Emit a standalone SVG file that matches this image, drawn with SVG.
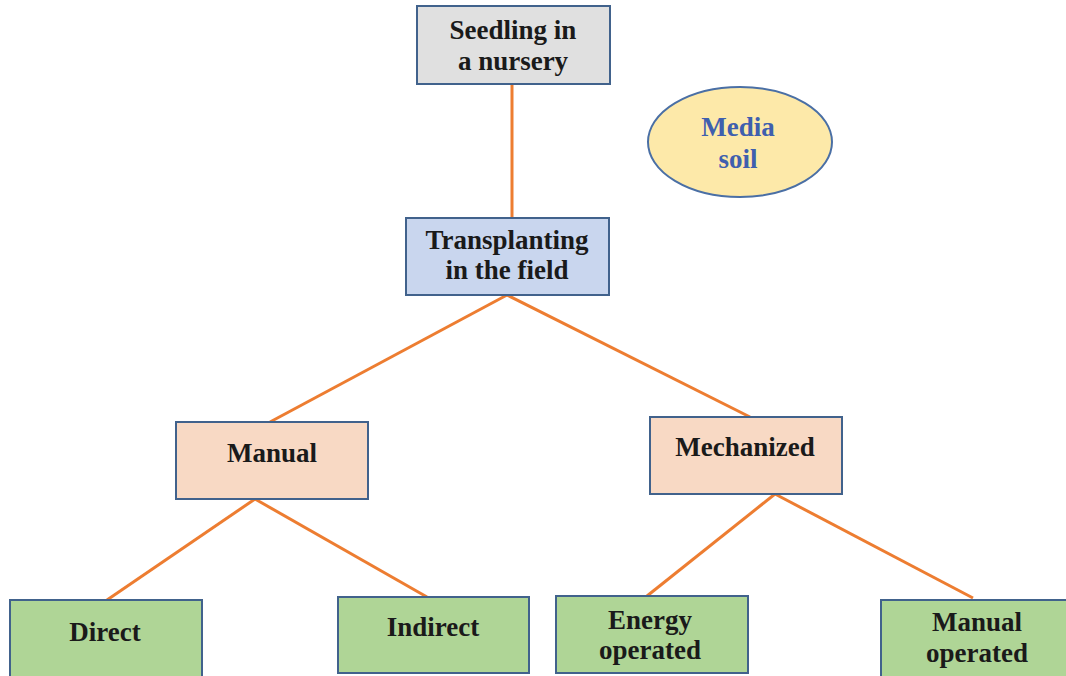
<svg xmlns="http://www.w3.org/2000/svg" width="1066" height="676" viewBox="0 0 1066 676">
<style>
.box{stroke:#41628c;stroke-width:2}
.t{font-family:"Liberation Serif","Times New Roman",serif;font-weight:bold;font-size:27px;fill:#1a1a1a;text-anchor:middle}
.b{fill:#3f5fae}
.c{stroke:#ed7d31;stroke-width:3;fill:none}
</style>
<rect width="1066" height="676" fill="#ffffff"/>
<g id="connectors">
<line class="c" x1="512" y1="84" x2="512" y2="218"/>
<line class="c" x1="507" y1="295" x2="270" y2="422"/>
<line class="c" x1="507" y1="295" x2="750" y2="417"/>
<line class="c" x1="255" y1="499" x2="107" y2="600"/>
<line class="c" x1="255" y1="499" x2="427" y2="597"/>
<line class="c" x1="775" y1="494" x2="647" y2="596"/>
<line class="c" x1="775" y1="494" x2="973" y2="598"/>
</g>
<g id="seedling">
<rect class="box" x="417" y="6" width="193" height="78" fill="#e0e0e0"/>
<text class="t" x="513" y="39">Seedling in</text>
<text class="t" x="513" y="70">a nursery</text>
</g>
<g id="media">
<ellipse cx="740" cy="142" rx="92" ry="55" fill="#fde9a9" stroke="#4a6fa5" stroke-width="2"/>
<text class="t b" x="738" y="136">Media</text>
<text class="t b" x="738" y="168">soil</text>
</g>
<g id="transplanting">
<rect class="box" x="406" y="218" width="203" height="77" fill="#c9d6ee"/>
<text class="t" x="507" y="249">Transplanting</text>
<text class="t" x="507" y="279">in the field</text>
</g>
<g id="manual">
<rect class="box" x="176" y="422" width="192" height="77" fill="#f8d9c4"/>
<text class="t" x="272" y="462">Manual</text>
</g>
<g id="mechanized">
<rect class="box" x="650" y="417" width="192" height="77" fill="#f8d9c4"/>
<text class="t" x="745" y="456">Mechanized</text>
</g>
<g id="direct">
<rect class="box" x="10" y="600" width="192" height="80" fill="#afd596"/>
<text class="t" x="105" y="641">Direct</text>
</g>
<g id="indirect">
<rect class="box" x="338" y="597" width="191" height="76" fill="#afd596"/>
<text class="t" x="433" y="636">Indirect</text>
</g>
<g id="energy">
<rect class="box" x="556" y="596" width="192" height="77" fill="#afd596"/>
<text class="t" x="650" y="629">Energy</text>
<text class="t" x="650" y="659">operated</text>
</g>
<g id="manualop">
<rect class="box" x="881" y="600" width="192" height="80" fill="#afd596"/>
<text class="t" x="977" y="631">Manual</text>
<text class="t" x="977" y="662">operated</text>
</g>
</svg>
